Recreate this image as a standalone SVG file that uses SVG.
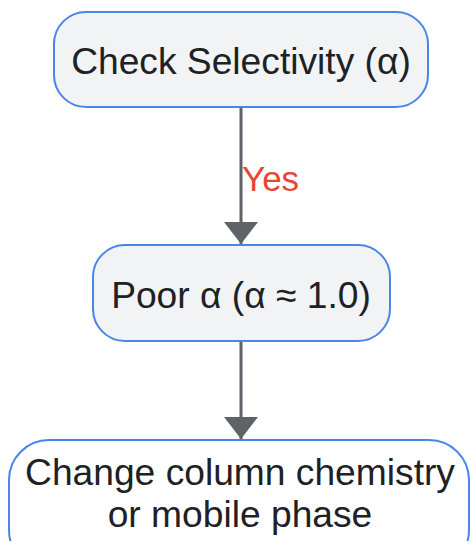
<svg xmlns="http://www.w3.org/2000/svg" width="470" height="541" viewBox="0 0 470 541">
<style>
.node{fill:#f1f3f5;stroke:#4a86e8;stroke-width:2}
.node2{fill:#ffffff;stroke:#4a86e8;stroke-width:2}
.lbl{font-family:"Liberation Sans",Arial,sans-serif;font-size:37.2px;fill:#202124;text-anchor:middle}
.edge{stroke:#5f6368;stroke-width:3;fill:none}
.elbl{font-family:"Liberation Sans",Arial,sans-serif;font-size:35px;fill:#ea4335}
</style>
<defs>
<marker id="arr" markerUnits="userSpaceOnUse" markerWidth="22" markerHeight="34" refX="22" refY="11" orient="auto" viewBox="0 0 22 22" preserveAspectRatio="none">
<path d="M0,0 L22,11 L0,22 Z" fill="#5f6368"/>
</marker>
</defs>
<rect width="470" height="541" fill="#ffffff"/>
<g id="connectors">
<line class="edge" x1="241" y1="107" x2="241" y2="244" marker-end="url(#arr)"/>
<text class="elbl" x="242" y="191">Yes</text>
<line class="edge" x1="241" y1="341" x2="241" y2="439" marker-end="url(#arr)"/>
</g>
<g id="node-check">
<rect class="node" x="54" y="12" width="374" height="95" rx="32"/>
<text class="lbl" x="241" y="74">Check Selectivity (α)</text>
</g>
<g id="node-poor">
<rect class="node" x="93" y="245" width="297" height="96" rx="32"/>
<text class="lbl" x="241" y="308">Poor α (α ≈ 1.0)</text>
</g>
<g id="node-change">
<rect class="node2" x="9" y="440" width="460" height="130" rx="40"/>
<text class="lbl" x="240" y="485">Change column chemistry</text>
<text class="lbl" x="240" y="527">or mobile phase</text>
</g>
</svg>
